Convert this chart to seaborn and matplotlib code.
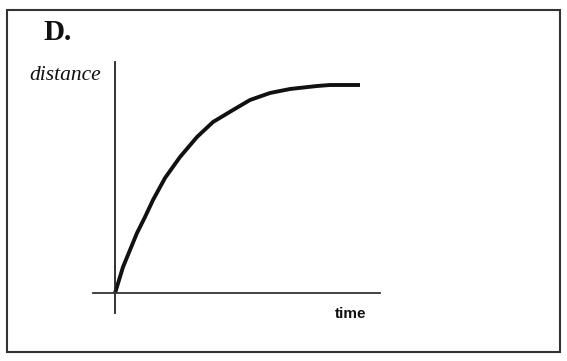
import matplotlib
matplotlib.use("Agg")
import matplotlib.pyplot as plt
import seaborn as sns
import pandas as pd
from matplotlib.patches import Rectangle

sns.set_theme(style="white")

time = [0, 1, 8, 15, 22, 30, 38, 50, 65, 82, 98, 118, 135, 155, 175, 202, 215, 245]
distance = [0, 3, 26, 43, 60, 76, 93, 115, 136, 156, 171, 183, 193, 200, 204, 207, 208, 208]
panel_label = "D."
y_label = "distance"
x_label = "time"

df = pd.DataFrame({"time": time, "distance": distance})

W, H = 567, 361
fig = plt.figure(figsize=(W / 100, H / 100), dpi=100)
ax = fig.add_axes([0, 0, 1, 1])
ax.set_facecolor("none")
fig.patch.set_facecolor("white")

ox, oy = 115, 293
ax.set_xlim(-ox, W - ox)
ax.set_ylim(-(H - oy), oy)

sns.lineplot(data=df, x="time", y="distance", ax=ax, color="#111111",
             linewidth=2.8, solid_capstyle="butt", solid_joinstyle="round",
             estimator=None, sort=False)

for side in ["top", "right"]:
    ax.spines[side].set_visible(False)
ax.spines["left"].set_position(("data", 0))
ax.spines["bottom"].set_position(("data", 0))
ax.spines["left"].set_bounds(-20, 231)
ax.spines["bottom"].set_bounds(-22, 265)
ax.spines["left"].set_color("#222222")
ax.spines["bottom"].set_color("#333333")
ax.spines["left"].set_linewidth(1.3)
ax.spines["bottom"].set_linewidth(1.3)
ax.set_xticks([])
ax.set_yticks([])
ax.set_xlabel("")
ax.set_ylabel("")

# frame
fig.patches.append(Rectangle((7 / W, 1 - 352 / H), (560 - 7) / W, (352 - 10) / H,
                             transform=fig.transFigure, fill=False,
                             edgecolor="#333333", linewidth=1.5))

fig.text(43 / W, 1 - 32 / H, panel_label, fontsize=21, fontweight="bold",
         family="Liberation Serif", va="center", ha="left", color="#111111")
fig.text(29 / W, 1 - 75 / H, y_label, fontsize=15.5, fontstyle="italic",
         family="Liberation Serif", va="center", ha="left", color="#111111")
fig.text(335 / W, 1 - 314 / H, x_label, fontsize=11, fontweight="bold",
         family="Liberation Sans", va="center", ha="left", color="#111111")

fig.savefig("out.png", dpi=100)
